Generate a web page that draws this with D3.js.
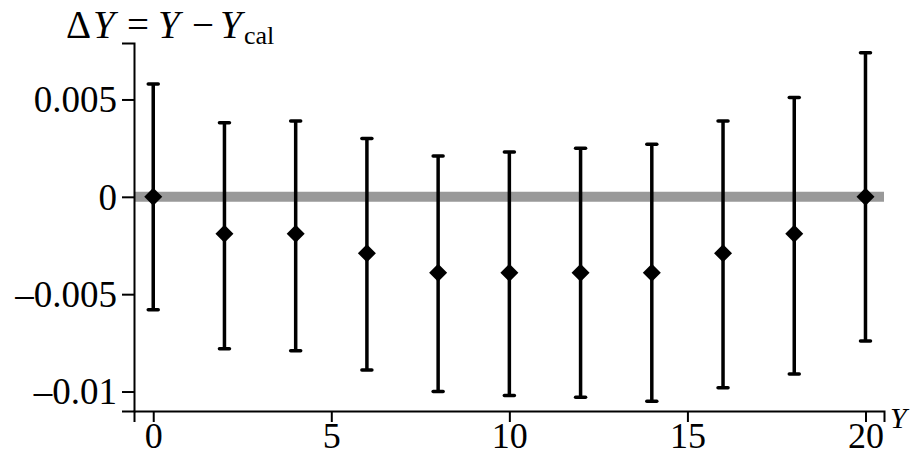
<!DOCTYPE html>
<html>
<head>
<meta charset="utf-8">
<script src="https://d3js.org/d3.v7.min.js"></script>
<style>
  body { margin: 0; background: #fff; }
  svg text { font-family: "Liberation Serif", "DejaVu Serif", Times, serif !important; fill: #000; }
</style>
</head>
<body>
<script>
// data
let xs = [0, 2, 4, 6, 8, 10, 12, 14, 16, 18, 20];
let dy = [0, -0.0019, -0.0019, -0.0029, -0.0039, -0.0039, -0.0039, -0.0039, -0.0029, -0.0019, 0];
let upper = [0.0058, 0.0038, 0.0039, 0.0030, 0.0021, 0.0023, 0.0025, 0.0027, 0.0039, 0.0051, 0.0074];
let lower = [-0.0058, -0.0078, -0.0079, -0.0089, -0.0100, -0.0102, -0.0103, -0.0105, -0.0098, -0.0091, -0.0074];
let xTicks = [0, 5, 10, 15, 20];
let yTicks = [0.005, 0, -0.005, -0.01];
let yTickLabels = ["0.005", "0", "\u20130.005", "\u20130.01"];

let width = 912, height = 456;
let svg = d3.select("body").append("svg")
    .attr("width", width)
    .attr("height", height);

let x = d3.scaleLinear().domain([-0.54, 20.52]).range([134, 884]);
let y = d3.scaleLinear().domain([-0.011, 0.0079]).range([411, 43]);

// zero reference band
svg.append("line")
    .attr("x1", x(-0.54)).attr("x2", x(20.52))
    .attr("y1", y(0)).attr("y2", y(0))
    .attr("stroke", "#999").attr("stroke-width", 10);

// axes
let xAxis = svg.append("g")
    .attr("transform", `translate(0,${y(-0.011)})`)
    .call(d3.axisBottom(x).tickValues(xTicks).tickSize(11).tickPadding(6).tickFormat(d3.format("d")));
let yAxis = svg.append("g")
    .attr("transform", `translate(${x(-0.54)},0)`)
    .call(d3.axisLeft(y).tickValues(yTicks).tickSize(12).tickPadding(5)
        .tickFormat((d, i) => yTickLabels[i]));

[xAxis, yAxis].forEach(function(g) {
    g.attr("font-family", null).attr("font-size", null);
    g.select(".domain").attr("stroke", "#000").attr("stroke-width", 2);
    g.selectAll(".tick line").attr("stroke", "#000").attr("stroke-width", 2);
    g.selectAll(".tick text")
        .style("font-size", "37px")
        .attr("fill", "#000");
});
xAxis.selectAll(".tick text").style("font-size", "36px").attr("dy", "0.56em");
yAxis.selectAll(".tick text").attr("dy", "0.33em");

let pts = xs.map((d, i) => ({x: d, y: dy[i], hi: upper[i], lo: lower[i]}));

// error bars
let bars = svg.append("g").selectAll("g").data(pts).join("g");
bars.append("line")
    .attr("x1", d => x(d.x)).attr("x2", d => x(d.x))
    .attr("y1", d => y(d.hi)).attr("y2", d => y(d.lo))
    .attr("stroke", "#000").attr("stroke-width", 3.5);
bars.selectAll("line.cap")
    .data(d => [[d.x, d.hi], [d.x, d.lo]])
    .join("line")
    .attr("class", "cap")
    .attr("x1", d => x(d[0]) - 5).attr("x2", d => x(d[0]) + 5)
    .attr("y1", d => y(d[1])).attr("y2", d => y(d[1]))
    .attr("stroke", "#000").attr("stroke-width", 3.5)
    .attr("stroke-linecap", "round");

// diamond markers
svg.append("g").selectAll("path").data(pts).join("path")
    .attr("transform", d => `translate(${x(d.x)},${y(d.y)})`)
    .attr("d", "M0,-9L9,0L0,9L-9,0Z")
    .attr("fill", "#000");

// axis titles
let title = svg.append("text")
    .attr("y", 38)
    .style("font-size", "39px");
title.append("tspan").attr("x", 66).text("\u0394");
title.append("tspan").attr("x", 93).style("font-style", "italic").text("Y");
title.append("tspan").attr("x", 127).text("=");
title.append("tspan").attr("x", 158).style("font-style", "italic").text("Y");
title.append("tspan").attr("x", 192).text("\u2212");
title.append("tspan").attr("x", 220).style("font-style", "italic").text("Y");
title.append("tspan").attr("x", 244).attr("y", 44).style("font-size", "26px").text("cal");

svg.append("text")
    .attr("x", 890).attr("y", 428)
    .style("font-size", "30px")
    .style("font-style", "italic")
    .text("Y");
</script>
</body>
</html>
